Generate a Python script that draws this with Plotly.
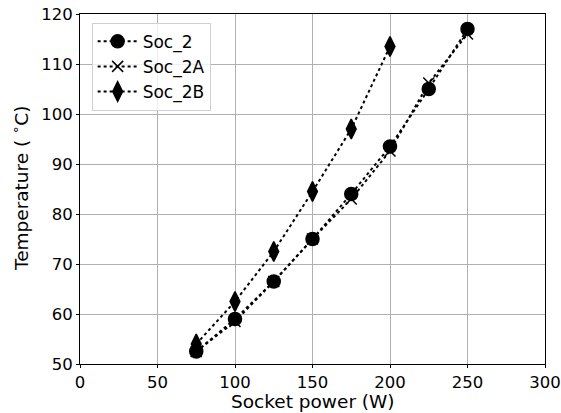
import plotly.graph_objects as go

power_2 = [75, 100, 125, 150, 175, 200, 225, 250]
temp_2 = [52.5, 59, 66.5, 75, 84, 93.5, 105, 117]
power_2A = [75, 100, 125, 150, 175, 200, 225, 250]
temp_2A = [52.5, 58.5, 66.5, 75, 83, 92.6, 106.2, 116]
power_2B = [75, 100, 125, 150, 175, 200]
temp_2B = [54, 62.5, 72.5, 84.5, 97, 113.5]

fig = go.Figure()
specs = [("Soc_2", power_2, temp_2, "circle", 13),
         ("Soc_2A", power_2A, temp_2A, "x-thin-open", 11),
         ("Soc_2B", power_2B, temp_2B, "diamond-tall", 14)]
for name, xs, ys, sym, sz in specs:
    fig.add_trace(go.Scatter(
        x=xs, y=ys, name=name, mode="lines+markers",
        line=dict(color="black", width=2, dash="dot"),
        marker=dict(symbol=sym, size=sz, color="black",
                    line=dict(color="black", width=1.5)),
    ))

axis_common = dict(
    showline=True, linecolor="black", linewidth=1, mirror=True,
    ticks="outside", ticklen=3, tickcolor="black",
    showgrid=True, gridcolor="#b0b0b0", gridwidth=1,
    tickfont=dict(family="DejaVu Sans", size=16.5, color="black"),
    zeroline=False, automargin=False, ticklabeloverflow="allow",
)
fig.update_xaxes(range=[0, 300], dtick=50, **axis_common)
fig.update_yaxes(range=[50, 120], dtick=10, **axis_common)

title_font = dict(family="DejaVu Sans", size=18.5, color="black")
fig.add_annotation(text="Socket power (W)", xref="paper", yref="paper",
                   x=0.5, y=-0.14, xanchor="center", yanchor="bottom",
                   showarrow=False, font=title_font, borderpad=0)
fig.add_annotation(text="Temperature ( <sup>∘</sup>C)", xref="paper", yref="paper",
                   x=-0.129, y=0.5, xanchor="center", yanchor="middle",
                   textangle=-90, showarrow=False, font=title_font)

fig.update_layout(
    width=561, height=413,
    margin=dict(l=80, r=16, t=14, b=49),
    plot_bgcolor="white", paper_bgcolor="white",
    legend=dict(x=0.025, y=0.975, xanchor="left", yanchor="top",
                bgcolor="rgba(255,255,255,0.8)", bordercolor="#d0d0d0", borderwidth=1,
                font=dict(family="DejaVu Sans", size=17, color="black"),
                itemwidth=40),
    showlegend=True,
)
fig.write_html("out.html")
